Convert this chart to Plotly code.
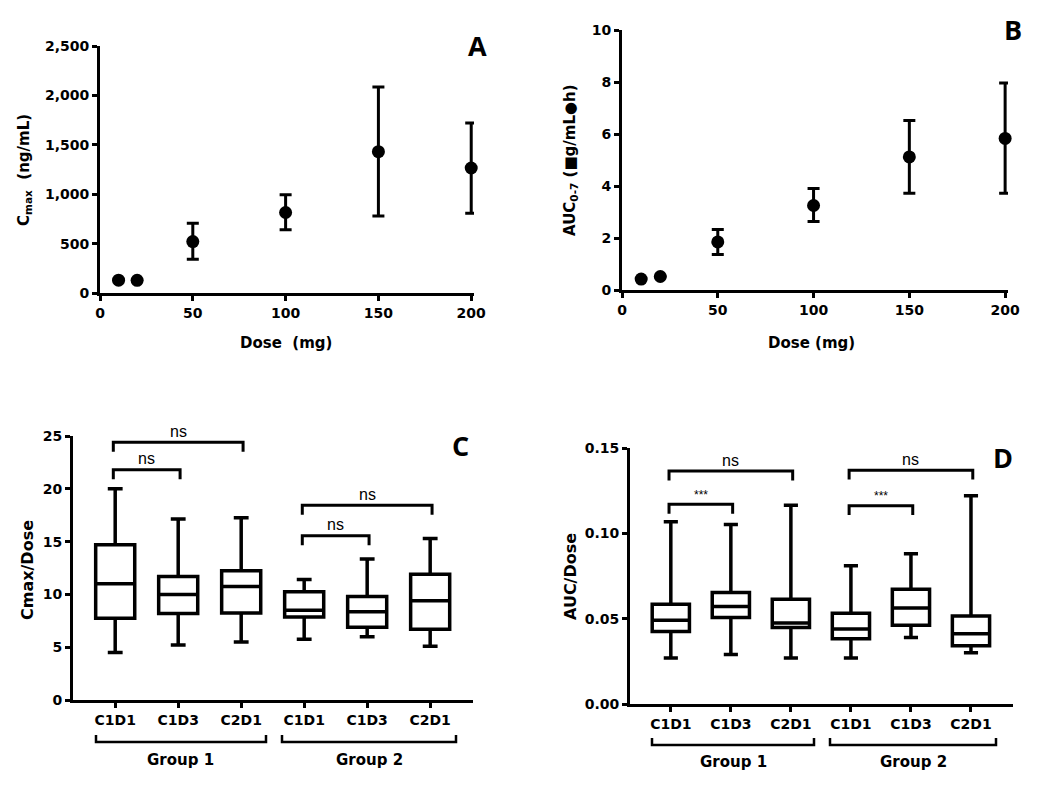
import plotly.graph_objects as go

W, H = 1050, 794
OFF = 8  # page body margin of the browser

# ---------------- data ----------------
dose = [10, 20, 50, 100, 150, 200]
cmax_mean = [130, 128, 520, 815, 1430, 1265]
cmax_upper = [None, None, 705, 995, 2085, 1720]
cmax_lower = [None, None, 342, 640, 780, 808]

auc_mean = [0.42, 0.52, 1.85, 3.25, 5.12, 5.83]
auc_upper = [None, None, 2.33, 3.90, 6.52, 7.96]
auc_lower = [None, None, 1.37, 2.63, 3.72, 3.72]

visits = ["C1D1", "C1D3", "C2D1", "C1D1", "C1D3", "C2D1"]
groups = ["Group 1", "Group 2"]

c_min = [4.5, 5.2, 5.5, 5.75, 6.0, 5.1]
c_q1 = [7.75, 8.2, 8.25, 7.85, 6.9, 6.7]
c_med = [11.0, 10.0, 10.75, 8.5, 8.35, 9.4]
c_q3 = [14.7, 11.7, 12.25, 10.25, 9.8, 11.9]
c_max = [20.0, 17.15, 17.25, 11.4, 13.35, 15.3]

d_min = [0.027, 0.029, 0.027, 0.027, 0.039, 0.030]
d_q1 = [0.0425, 0.0507, 0.0448, 0.0382, 0.0462, 0.0341]
d_med = [0.0490, 0.0571, 0.0475, 0.0440, 0.0563, 0.0411]
d_q3 = [0.0584, 0.0653, 0.0614, 0.0532, 0.0672, 0.0516]
d_max = [0.1068, 0.1052, 0.1165, 0.0810, 0.0880, 0.1220]

# comparisons: (from, to, bar level, label)
c_comp = [(0, 1, 21.8, "ns"), (0, 2, 24.4, "ns"), (3, 4, 15.55, "ns"), (3, 5, 18.45, "ns")]
d_comp = [(0, 1, 0.117, "***"), (0, 2, 0.1365, "ns"), (3, 4, 0.1162, "***"), (3, 5, 0.137, "ns")]

# ---------------- helpers ----------------
def px(x):
    return (x - OFF) / W

def py(y):
    return 1 - (y - OFF) / H

FONT = "DejaVu Sans, Liberation Sans, Arial, sans-serif"
BLACK = "#000000"

fig = go.Figure()

err_up = lambda up, m: [(u - v) if u is not None else 0 for u, v in zip(up, m)]
err_lo = lambda lo, m: [(v - l) if l is not None else 0 for l, v in zip(lo, m)]

fig.add_trace(go.Scatter(
    x=dose, y=cmax_mean, mode="markers", xaxis="x", yaxis="y",
    marker=dict(size=13, color=BLACK),
    error_y=dict(type="data", symmetric=False,
                 array=err_up(cmax_upper, cmax_mean),
                 arrayminus=err_lo(cmax_lower, cmax_mean),
                 thickness=3, width=6, color=BLACK),
    showlegend=False, cliponaxis=False))

fig.add_trace(go.Scatter(
    x=dose, y=auc_mean, mode="markers", xaxis="x2", yaxis="y2",
    marker=dict(size=13, color=BLACK),
    error_y=dict(type="data", symmetric=False,
                 array=err_up(auc_upper, auc_mean),
                 arrayminus=err_lo(auc_lower, auc_mean),
                 thickness=3, width=6, color=BLACK),
    showlegend=False, cliponaxis=False))

pos = list(range(len(visits)))

fig.add_trace(go.Box(
    x=pos, q1=c_q1, median=c_med, q3=c_q3, lowerfence=c_min, upperfence=c_max,
    xaxis="x3", yaxis="y3", width=0.62, whiskerwidth=0.38,
    line=dict(color=BLACK, width=3.5), fillcolor="white",
    showlegend=False, boxpoints=False))

fig.add_trace(go.Box(
    x=pos, q1=d_q1, median=d_med, q3=d_q3, lowerfence=d_min, upperfence=d_max,
    xaxis="x4", yaxis="y4", width=0.62, whiskerwidth=0.38,
    line=dict(color=BLACK, width=3.5), fillcolor="white",
    showlegend=False, boxpoints=False))

tickfont = dict(family=FONT, size=14, color=BLACK, weight="bold")
axis_common = dict(showline=True, linecolor=BLACK, linewidth=3, ticks="outside",
                   ticklen=5, tickwidth=3, tickcolor=BLACK, showgrid=False,
                   zeroline=False, tickfont=tickfont, fixedrange=True, automargin=False)

layout = dict(
    template="none",
    width=W, height=H, margin=dict(l=0, r=0, t=0, b=0, pad=0, autoexpand=False),
    paper_bgcolor="white", plot_bgcolor="white", showlegend=False,
    xaxis=dict(domain=[px(100), px(474)], range=[0, 201.5], anchor="y",
               tickvals=[0, 50, 100, 150, 200], **axis_common),
    yaxis=dict(domain=[py(293), py(46)], range=[0, 2500], anchor="x",
               tickvals=[0, 500, 1000, 1500, 2000, 2500], tickformat=",d", **axis_common),
    xaxis2=dict(domain=[px(622), px(1008)], range=[0, 201.5], anchor="y2",
                tickvals=[0, 50, 100, 150, 200], **axis_common),
    yaxis2=dict(domain=[py(290), py(30)], range=[0, 10], anchor="x2",
                tickvals=[0, 2, 4, 6, 8, 10], **axis_common),
    xaxis3=dict(domain=[px(73), px(473)], range=[-0.67, 5.68], anchor="y3",
                tickvals=pos, ticktext=visits, **axis_common),
    yaxis3=dict(domain=[py(700), py(436)], range=[0, 25], anchor="x3",
                tickvals=[0, 5, 10, 15, 20, 25], **axis_common),
    xaxis4=dict(domain=[px(630), px(1013)], range=[-0.68, 5.7], anchor="y4",
                tickvals=pos, ticktext=visits, **axis_common),
    yaxis4=dict(domain=[py(704), py(448)], range=[0, 0.15], anchor="x4",
                tickvals=[0, 0.05, 0.10, 0.15], tickformat=".2f", **axis_common),
)
fig.update_layout(**layout)

annots = []
shapes = []

def title_text(text, x, y, angle=0, size=15):
    annots.append(dict(text=text, x=px(x), y=py(y), xref="paper", yref="paper",
                       showarrow=False, textangle=angle, xanchor="center", yanchor="middle",
                       font=dict(family=FONT, size=size, color=BLACK, weight="bold")))

# axis titles
title_text("C<sub>max</sub>  (ng/mL)", 25, 170, -90)
title_text("Dose  (mg)", 286, 343)
title_text("AUC<sub>0-7</sub> (■g/mL●h)", 570, 160, -90)
title_text("Dose (mg)", 811, 343)
title_text("Cmax/Dose", 27, 570, -90, 16)
title_text("AUC/Dose", 570, 577, -90, 16)

# panel letters
for letter, x, y in [("A", 477, 46), ("B", 1013, 30), ("C", 460, 446), ("D", 1003, 457)]:
    annots.append(dict(text=letter, x=px(x), y=py(y), xref="paper", yref="paper",
                       showarrow=False, xanchor="center", yanchor="middle",
                       font=dict(family="Open Sans, Liberation Sans, sans-serif", size=27,
                                 color=BLACK, weight="bold")))

# significance brackets
def brackets(comps, xa, ya, drop, label_off):
    for a, b, lvl, lab in comps:
        shapes.append(dict(type="path", xref=xa, yref=ya,
                           path=f"M {a-0.03},{lvl-drop} L {a-0.03},{lvl} L {b+0.03},{lvl} L {b+0.03},{lvl-drop}",
                           line=dict(color=BLACK, width=3)))
        annots.append(dict(text=lab, x=(a + b) / 2, y=lvl + label_off, xref=xa, yref=ya,
                           showarrow=False, xanchor="center", yanchor="bottom",
                           font=dict(family="Liberation Sans, Arial, sans-serif",
                                     size=16 if lab == "ns" else 12, color=BLACK)))

brackets(c_comp, "x3", "y3", 0.9, 0.05)
brackets(d_comp, "x4", "y4", 0.0055, 0.0003)

# group brackets under category labels
def group_brackets(spans, ytop, ybot, ytext):
    for (x0, x1), g in zip(spans, groups):
        shapes.append(dict(type="path", xref="paper", yref="paper",
                           path=f"M {px(x0)},{py(ytop)} L {px(x0)},{py(ybot)} L {px(x1)},{py(ybot)} L {px(x1)},{py(ytop)}",
                           line=dict(color=BLACK, width=2.5)))
        title_text(g, (x0 + x1) / 2, ytext)

group_brackets([(96, 266), (282, 456)], 735, 742, 760)
group_brackets([(652, 814), (830, 996)], 738, 745, 762)

fig.update_layout(annotations=annots, shapes=shapes)

fig.write_html("out.html")
